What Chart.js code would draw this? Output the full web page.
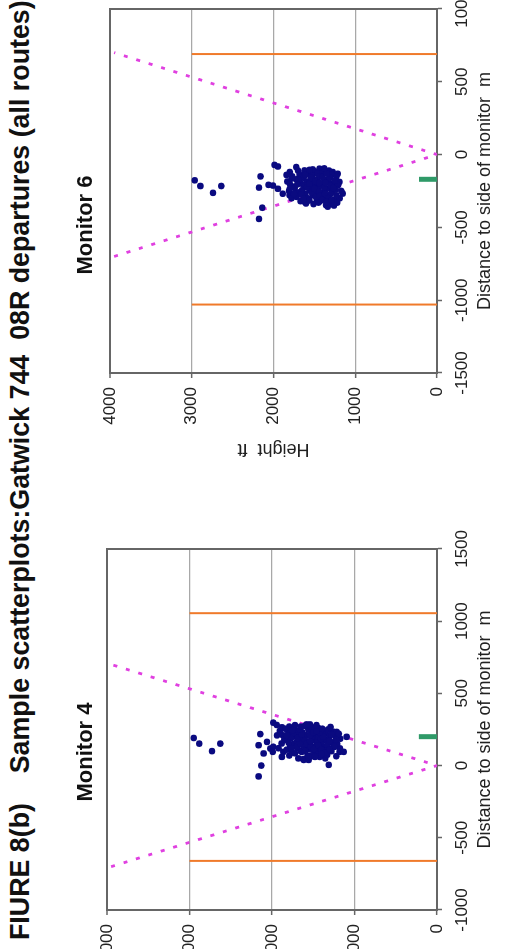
<!DOCTYPE html>
<html><head><meta charset="utf-8">
<script src="https://cdn.jsdelivr.net/npm/chart.js@4.4.1/dist/chart.umd.min.js"></script>
<style>
html,body{margin:0;padding:0;width:509px;height:949px;overflow:hidden;background:#fff;}
#frame{position:absolute;left:0;top:949px;width:949px;height:509px;transform-origin:0 0;transform:rotate(-90deg);overflow:hidden;background:#fff;}
#title{position:absolute;left:9px;top:5px;font:bold 26.8px "Liberation Sans",Arial,sans-serif;white-space:pre;color:#111;line-height:30px;}
.box{position:absolute;top:50px;height:459px;}
</style></head><body>
<div id="frame">
<div id="title">FIURE 8(b)    Sample scatterplots:Gatwick 744  08R departures (all routes)</div>
<div class="box" style="left:-35px;width:464px"><canvas id="c4" width="464" height="459"></canvas></div>
<div class="box" style="left:479px;width:490px"><canvas id="c6" width="490" height="459"></canvas></div>
</div>
<script>
// ---------- data ----------
const yTicks = [0, 1000, 2000, 3000, 4000];
const xTicks4 = [-1000, -500, 0, 500, 1000, 1500];
const xTicks6 = [-1500, -1000, -500, 0, 500, 1000];
const chartTitles = ['Monitor 4', 'Monitor 6'];
const xAxisTitle = 'Distance to side of monitor  m';
const yAxisTitle = 'Height  ft';

// Monitor 4 flights: [distance m, height ft]
const m4Points = [
 [191,2949],[152,2881],[100,2727],[152,2626],
 [-75,2162],[0,2129],[141,2162],[218,2141],
 [297,1984],[281,1943],[84,2101],[118,2020],[164,2060],[209,1940],[130,1985],[95,1990],
 [60,1880],[95,1862],[153,1883],[210,1870],[240,1905],[120,1920],[180,1850],[265,1880],
 [70,1790],[110,1820],[140,1780],[175,1810],[200,1760],[230,1800],[270,1790],[255,1840],[90,1760],
 [50,1680],[85,1720],[120,1690],[150,1740],[180,1660],[205,1710],[235,1690],[260,1730],[280,1720],[100,1650],[165,1700],[220,1745],
 [39,1616],[45,1620],[70,1570],[95,1640],[125,1590],[140,1625],[160,1560],[185,1610],[210,1580],[230,1630],[250,1560],[275,1600],[115,1550],[195,1645],
 [39,1556],[65,1530],[90,1480],[110,1520],[135,1470],[155,1540],[175,1490],[200,1510],[220,1460],[245,1520],[265,1480],[285,1540],[80,1450],[190,1450],
 [50,1354],[60,1420],[85,1380],[105,1440],[130,1360],[150,1410],[170,1390],[195,1430],[215,1370],[240,1400],[260,1440],[225,1350],[120,1420],
 [5,1313],[75,1330],[100,1280],[125,1320],[160,1270],[180,1340],[205,1300],[235,1260],[250,1320],[140,1250],[267,1290],
 [65,1220],[95,1180],[119,1175],[150,1210],[186,1172],[200,1230],[233,1216],[95,1131],[199,1095],
 [130,1700],[155,1660],[190,1690],[215,1640],[175,1600],[150,1580],[130,1530],[170,1540],[210,1540],[230,1500],
 [115,1490],[160,1450],[185,1410],[140,1440],[110,1400],[90,1350],[145,1330],[170,1300],[200,1380],[230,1420],
 [240,1460],[255,1390],[215,1280],[180,1220],[130,1240],[110,1300],[80,1400],[60,1480],[60,1560],[100,1600],
 [250,1660],[190,1770],[160,1800],[120,1760],[210,1820],[245,1750],[270,1650],[285,1580],[280,1460],[220,1190]
];
// Monitor 6 flights: [distance m, height ft]
const m6Points = [
 [-177,2963],[-216,2894],[-263,2740],[-216,2638],
 [-150,2158],[-227,2178],[-365,2137],[-442,2178],
 [-71,1987],[-82,1946],[-208,2060],[-213,2007],[-235,1946],[-269,1886],[-279,1804],
 [-86,1722],[-109,1620],[-102,1519],[-97,1437],[-120,1275],[-132,1214],[-188,1194],[-268,1153],
 [-347,1357],[-336,1601],[-324,1621],[-358,1336],
 [-120,1800],[-150,1770],[-185,1830],[-220,1760],[-250,1810],[-300,1780],[-140,1840],
 [-110,1700],[-140,1680],[-170,1720],[-200,1660],[-230,1740],[-260,1690],[-290,1720],[-320,1670],[-155,1650],
 [-130,1570],[-160,1630],[-190,1590],[-215,1620],[-245,1560],[-270,1610],[-300,1580],[-180,1555],
 [-115,1500],[-145,1530],[-170,1470],[-195,1510],[-225,1540],[-250,1480],[-280,1520],[-310,1470],[-340,1510],[-205,1455],[-130,1460],
 [-125,1400],[-150,1430],[-180,1380],[-210,1420],[-240,1360],[-265,1410],[-295,1390],[-320,1430],[-225,1445],
 [-110,1320],[-140,1290],[-170,1340],[-200,1270],[-230,1310],[-255,1280],[-285,1330],[-310,1260],[-340,1300],[-190,1330],
 [-150,1230],[-210,1210],[-240,1240],[-300,1190],[-330,1220],[-250,1170],[-280,1230],
 [-175,1690],[-205,1710],[-245,1650],[-275,1660],[-305,1630],[-225,1590],[-200,1560],[-160,1540],[-260,1530],[-290,1480],
 [-235,1500],[-185,1490],[-155,1400],[-195,1440],[-255,1440],[-285,1430],[-310,1400],[-270,1370],[-225,1380],[-195,1360],
 [-160,1310],[-215,1300],[-270,1300],[-300,1330],[-325,1350],[-230,1270],[-180,1250],[-130,1350],[-120,1620],[-140,1610],
 [-165,1780],[-200,1800],[-235,1800],[-270,1750],[-315,1560],[-330,1450],[-105,1560],[-95,1380],[-315,1290],[-350,1260]
];
// reference lines
const coneX = [-700, 0, 700];
const coneY = [3950, 0, 3950];
const m4Boundary = [-660, 1055];
const m6Boundary = [-1030, 690];
const boundaryTop = 3000;
const m4Runway = 200;
const m6Runway = -170;
const runwayTop = 220;

// ---------- drawing ----------
const FONT = '"Liberation Sans", Arial, sans-serif';
function seg(x0, y0, x1, y1) { return [{x: x0, y: y0}, {x: x1, y: y1}]; }

function make(id, title, pts, xTicks, bounds, runX, opts) {
  const ds = [
    {data: pts.map(p => ({x: p[0], y: p[1]})), pointStyle: 'circle', pointRadius: 3.3,
     backgroundColor: '#0a0a80', borderColor: '#0a0a80', borderWidth: 0, showLine: false},
    {data: coneX.map((x, i) => ({x: x, y: coneY[i]})), showLine: true, borderColor: '#e040e0',
     borderWidth: 2.8, borderDash: [4, 9], pointRadius: 0, fill: false},
    {data: seg(bounds[0], 0, bounds[0], boundaryTop), showLine: true, borderColor: '#f07a2a', borderWidth: 2, pointRadius: 0},
    {data: seg(bounds[1], 0, bounds[1], boundaryTop), showLine: true, borderColor: '#f07a2a', borderWidth: 2, pointRadius: 0},
    {data: seg(runX, 0, runX, runwayTop), showLine: true, borderColor: '#2f9a68', borderWidth: 5, pointRadius: 0}
  ];
  return new Chart(document.getElementById(id), {
    type: 'scatter',
    data: {datasets: ds},
    options: {
      responsive: false, animation: false,
      layout: {padding: 0},
      plugins: {
        legend: {display: false}, tooltip: {enabled: false},
        title: {display: true, text: title, color: '#111',
          font: {family: FONT, size: 22, weight: 'bold'},
          padding: {top: 22.8, bottom: opts.titleBottom}}
      },
      scales: {
        x: {type: 'linear', position: 'bottom', min: xTicks[0], max: xTicks[xTicks.length - 1],
          afterBuildTicks: s => { s.ticks = xTicks.map(v => ({value: v})); },
          ticks: {font: {family: FONT, size: 17}, color: '#222', padding: 10, maxRotation: 0,
                  callback: v => String(v)},
          grid: {display: true, drawOnChartArea: false, drawTicks: true, tickLength: 5, tickColor: '#666', tickWidth: 1.5},
          border: {display: true, color: '#666', width: 2},
          title: {display: true, text: xAxisTitle, color: '#222', font: {family: FONT, size: 18}, padding: {top: 0, bottom: 13}},
          afterFit: s => { s.height = 72; }
        },
        y: {type: 'linear', position: 'left', min: 0, max: 4000,
          afterBuildTicks: s => { s.ticks = yTicks.map(v => ({value: v})); },
          ticks: {font: {family: FONT, size: 17}, color: '#222', padding: 9, callback: v => String(v)},
          grid: {color: c => c.tick && c.tick.value === 4000 ? '#666' : '#a8a8a8',
                 lineWidth: c => c.tick && c.tick.value === 4000 ? 2 : 1.3,
                 drawTicks: true, tickLength: 5, tickColor: '#666', tickWidth: 1.5},
          border: {display: true, color: '#666', width: 2},
          title: {display: true, text: yAxisTitle, color: '#222', font: {family: FONT, size: 18}, padding: {top: 10, bottom: 0}},
          afterFit: s => { s.width = opts.yWidth; }
        },
        yR: {type: 'linear', position: 'right', min: 0, max: 4000, display: true,
          ticks: {display: false}, grid: {display: false},
          border: {display: true, color: '#666', width: 2},
          afterFit: s => { s.width = 25; }
        }
      }
    }
  });
}
make('c4', chartTitles[0], m4Points, xTicks4, m4Boundary, m4Runway, {titleBottom: 7.8, yWidth: 74});
make('c6', chartTitles[1], m6Points, xTicks6, m6Boundary, m6Runway, {titleBottom: 10.8, yWidth: 97});
</script>
</body></html>
